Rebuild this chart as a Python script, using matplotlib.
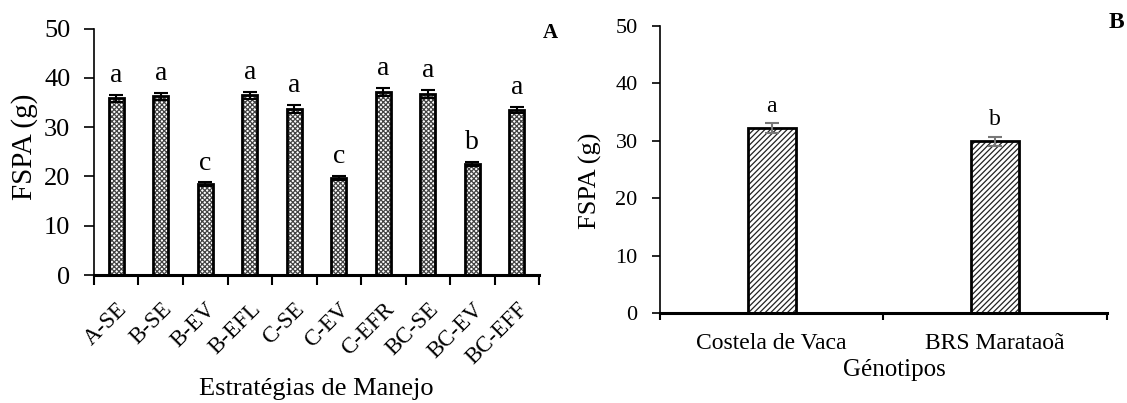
import numpy as np
import matplotlib.pyplot as plt

plt.rcParams['font.family'] = ['Liberation Serif', 'DejaVu Serif']
plt.rcParams['hatch.linewidth'] = 0.9

# Panel A: management strategies
manejo = ["A-SE", "B-SE", "B-EV", "B-EFL", "C-SE", "C-EV", "C-EFR", "BC-SE", "BC-EV", "BC-EFF"]
fspa_manejo = [35.9, 36.3, 18.4, 36.5, 33.7, 19.7, 37.1, 36.7, 22.6, 33.5]
erro_manejo = [0.7, 0.7, 0.4, 0.7, 0.9, 0.4, 0.8, 0.8, 0.4, 0.7]
letras_manejo = ["a", "a", "c", "a", "a", "c", "a", "a", "b", "a"]

# Panel B: genotypes
genotipos = ["Costela de Vaca", "BRS Marataoã"]
fspa_gen = [32.2, 29.9]
erro_gen = [0.8, 0.8]
letras_gen = ["a", "b"]

fig = plt.figure(figsize=(11.27, 4.03), dpi=100)

# ---- A ----
ax1 = fig.add_axes([0.0834, 0.3176, 0.3949, 0.6112])
x1 = np.arange(len(manejo))
ax1.bar(x1, fspa_manejo, width=0.34, color="white", edgecolor="#444444",
        hatch="xxxxxxx", linewidth=0)
ax1.bar(x1, fspa_manejo, width=0.34, fill=False, edgecolor="black", linewidth=2)
ax1.errorbar(x1, fspa_manejo, yerr=erro_manejo, fmt="none", ecolor="black",
             elinewidth=1.5, capsize=5, capthick=1.5)
for xi, v, e, l in zip(x1, fspa_manejo, erro_manejo, letras_manejo):
    ax1.text(xi, v + e + 2.6, l, ha="center", va="baseline", fontsize=20)

ax1.set_xlim(-0.5, len(manejo) - 0.5)
ax1.set_ylim(0, 50)
ax1.set_yticks(range(0, 51, 10))
ax1.set_xticks(np.arange(-0.5, len(manejo), 1.0))
ax1.set_xticklabels([])
ax1.set_xticks(x1, minor=True)
ax1.set_xticklabels(manejo, minor=True, rotation=45, ha="right",
                    rotation_mode="anchor", fontsize=16.5)
ax1.tick_params(axis="x", which="minor", length=0, pad=17)
ax1.tick_params(axis="x", which="major", length=7, width=1.5, direction="out")
ax1.tick_params(axis="y", length=7, width=1.2, labelsize=19, pad=10)
for s in ["top", "right"]:
    ax1.spines[s].set_visible(False)
ax1.spines["left"].set_linewidth(1.2)
ax1.spines["bottom"].set_linewidth(2.2)
fig.text(0.022, 0.635, "FSPA (g)", rotation=90, fontsize=21, ha="center", va="center")
fig.text(0.2808, 0.02, "Estratégias de Manejo", fontsize=19, ha="center", va="baseline")
fig.text(0.488, 0.918, "A", fontsize=15, fontweight="bold", ha="center", va="center")

# ---- B ----
ax2 = fig.add_axes([0.5856, 0.2226, 0.3966, 0.7136])
x2 = np.arange(len(genotipos))
ax2.bar(x2, fspa_gen, width=0.215, color="white", edgecolor="#222222",
        hatch="//////", linewidth=0)
ax2.bar(x2, fspa_gen, width=0.215, fill=False, edgecolor="black", linewidth=2)
ax2.errorbar(x2, fspa_gen, yerr=erro_gen, fmt="none", ecolor="#777777",
             elinewidth=1.5, capsize=5, capthick=1.5)
for xi, v, e, l in zip(x2, fspa_gen, erro_gen, letras_gen):
    ax2.text(xi, v + e + 2.0, l, ha="center", va="baseline", fontsize=17)

ax2.set_xlim(-0.5, len(genotipos) - 0.5)
ax2.set_ylim(0, 50)
ax2.set_yticks(range(0, 51, 10))
ax2.set_xticks(np.arange(-0.5, len(genotipos), 1.0))
ax2.set_xticklabels([])
ax2.set_xticks(x2, minor=True)
ax2.set_xticklabels(genotipos, minor=True, fontsize=17)
ax2.tick_params(axis="x", which="minor", length=0, pad=14)
ax2.tick_params(axis="x", which="major", length=5, width=1.5, direction="out")
ax2.tick_params(axis="y", length=6, width=1.2, labelsize=16, pad=10)
for s in ["top", "right"]:
    ax2.spines[s].set_visible(False)
ax2.spines["left"].set_linewidth(1.2)
ax2.spines["bottom"].set_linewidth(2.2)
fig.text(0.5235, 0.551, "FSPA (g)", rotation=90, fontsize=19, ha="center", va="center")
fig.text(0.794, 0.067, "Génotipos", fontsize=18, ha="center", va="baseline")
fig.text(0.991, 0.944, "B", fontsize=17, fontweight="bold", ha="center", va="center")

fig.savefig("out.png", dpi=100)
